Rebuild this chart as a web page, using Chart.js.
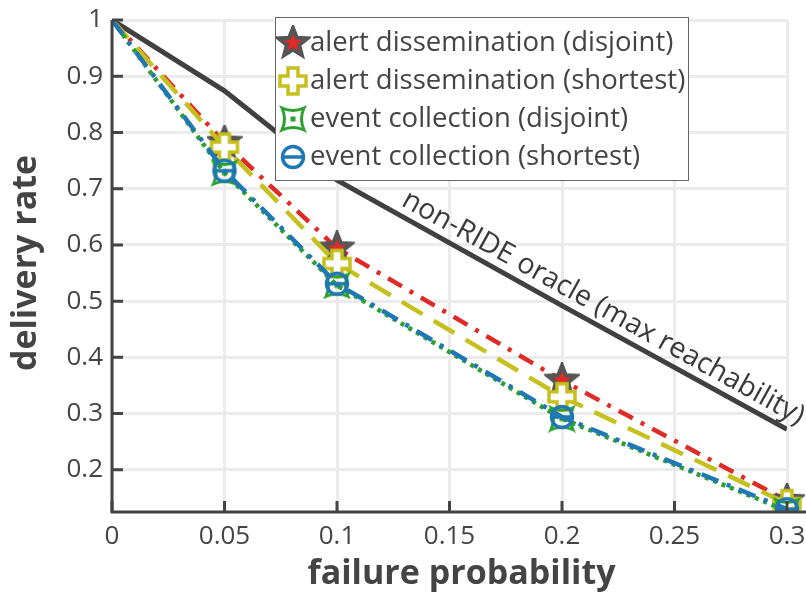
<!DOCTYPE html>
<html>
<head>
<meta charset="utf-8">
<script src="https://cdn.jsdelivr.net/npm/chart.js@4/dist/chart.umd.min.js"></script>
<style>
  html, body { margin: 0; padding: 0; background: #ffffff; }
  #wrap { width: 806px; height: 592px; }
</style>
</head>
<body>
<div id="wrap"><canvas id="chart" width="806" height="592"></canvas></div>
<script>
// failure probability on the x axis
const probabilities = [0, 0.05, 0.1, 0.2, 0.3];

// delivery rate per routing scheme
const alertDisjoint = [1.0, 0.782, 0.594, 0.359, 0.145];
const alertShortest = [1.0, 0.774, 0.567, 0.330, 0.140];
const eventDisjoint = [1.0, 0.728, 0.528, 0.291, 0.127];
const eventShortest = [1.0, 0.732, 0.531, 0.294, 0.130];
const oracleReach   = [1.0, 0.874, 0.715, 0.492, 0.272];

const seriesNames = [
  'alert dissemination (disjoint)',
  'alert dissemination (shortest)',
  'event collection (disjoint)',
  'event collection (shortest)'
];
const oracleLabel = 'non-RIDE oracle (max reachability)';
const xTitle = 'failure probability';
const yTitle = 'delivery rate';

const xTicks = [0, 0.05, 0.1, 0.15, 0.2, 0.25, 0.3];
const yTicks = [0.2, 0.3, 0.4, 0.5, 0.6, 0.7, 0.8, 0.9, 1];

const FONT = "'Open Sans', 'Noto Sans', sans-serif";
const TEXT = '#444444';
const RED = '#e02a26', YELLOW = '#c6c01e', GREEN = '#2ca02c', BLUE = '#1f77b4', DARK = '#404040';

// ---- marker glyphs, drawn once into small canvases ----
function glyph(size, draw) {
  const c = document.createElement('canvas');
  c.width = size; c.height = size;
  const g = c.getContext('2d');
  g.translate(size / 2, size / 2);
  draw(g);
  return c;
}
const starMark = glyph(36, g => {
  const R = 15, r = 6.5;
  g.beginPath();
  for (let i = 0; i < 10; i++) {
    const a = -Math.PI / 2 + i * Math.PI / 5;
    const rad = i % 2 === 0 ? R : r;
    g.lineTo(rad * Math.cos(a), rad * Math.sin(a));
  }
  g.closePath();
  g.fillStyle = RED; g.fill();
  g.lineWidth = 4; g.strokeStyle = '#555555'; g.lineJoin = 'miter'; g.stroke();
});
const plusMark = glyph(32, g => {
  const a = 5, L = 13;
  g.beginPath();
  g.moveTo(-a, -L); g.lineTo(a, -L); g.lineTo(a, -a); g.lineTo(L, -a); g.lineTo(L, a);
  g.lineTo(a, a); g.lineTo(a, L); g.lineTo(-a, L); g.lineTo(-a, a); g.lineTo(-L, a);
  g.lineTo(-L, -a); g.lineTo(-a, -a); g.closePath();
  g.fillStyle = '#ffffff'; g.fill();
  g.lineWidth = 3.5; g.strokeStyle = YELLOW; g.stroke();
});
const pinchMark = glyph(28, g => {
  const s = 11, p = 5;
  g.beginPath();
  g.moveTo(-s, -s);
  g.quadraticCurveTo(0, -s + p, s, -s);
  g.quadraticCurveTo(s - p, 0, s, s);
  g.quadraticCurveTo(0, s - p, -s, s);
  g.quadraticCurveTo(-s + p, 0, -s, -s);
  g.closePath();
  g.lineWidth = 3; g.strokeStyle = GREEN; g.stroke();
  g.fillStyle = GREEN; g.fillRect(-2.5, -2.5, 5, 5);
});
const barCircleMark = glyph(28, g => {
  g.beginPath(); g.arc(0, 0, 10.5, 0, Math.PI * 2);
  g.lineWidth = 3.5; g.strokeStyle = BLUE; g.stroke();
  g.beginPath(); g.moveTo(-10.5, 0); g.lineTo(10.5, 0); g.stroke();
});
const marks = [starMark, plusMark, pinchMark, barCircleMark];

const pts = vals => probabilities.map((p, i) => ({ x: p, y: vals[i] }));
// no marker on the shared starting point
const markRadius = ctx => (ctx.dataIndex === 0 ? 0 : 12);
// clip to the plot except on the right, where the last markers overhang
const plotClip = { left: 0, top: 0, right: 20, bottom: 0 };

function series(i, vals, color, dash, order) {
  return {
    label: seriesNames[i],
    data: pts(vals),
    borderColor: color,
    borderWidth: 4.5,
    borderDash: dash,
    pointStyle: marks[i],
    pointRadius: markRadius,
    pointHoverRadius: markRadius,
    fill: false,
    tension: 0,
    clip: plotClip,
    order: order
  };
}

const datasets = [
  {
    label: oracleLabel,
    data: pts(oracleReach),
    borderColor: DARK,
    borderWidth: 5,
    pointRadius: 0,
    fill: false,
    tension: 0,
    clip: 0,
    order: 10
  },
  series(0, alertDisjoint, RED, [16, 9, 4, 9], 4),
  series(1, alertShortest, YELLOW, [24, 13], 3),
  series(2, eventDisjoint, GREEN, [4, 5], 2),
  series(3, eventShortest, BLUE, [18, 9, 4, 9], 1)
];

// inward tick marks and the two axis lines
const innerTicks = {
  id: 'innerTicks',
  afterDraw(chart) {
    const { ctx, chartArea: a, scales: { x, y } } = chart;
    ctx.save();
    ctx.strokeStyle = '#444444';
    ctx.lineWidth = 3;
    ctx.beginPath();
    xTicks.forEach(v => { const px = x.getPixelForValue(v); ctx.moveTo(px, a.bottom); ctx.lineTo(px, a.bottom - 11); });
    yTicks.forEach(v => { const py = y.getPixelForValue(v); ctx.moveTo(a.left, py); ctx.lineTo(a.left + 11, py); });
    ctx.stroke();
    ctx.beginPath();
    ctx.moveTo(a.left, a.top); ctx.lineTo(a.left, a.bottom); ctx.lineTo(a.right + 20, a.bottom);
    ctx.stroke();
    ctx.restore();
  }
};

// axis titles
const axisTitles = {
  id: 'axisTitles',
  afterDraw(chart) {
    const { ctx, chartArea: a } = chart;
    ctx.save();
    ctx.font = 'bold 34px ' + FONT;
    ctx.fillStyle = TEXT;
    ctx.textAlign = 'center';
    ctx.textBaseline = 'middle';
    ctx.fillText(xTitle, (a.left + a.right) / 2 + 12, 574);
    ctx.translate(26, (a.top + a.bottom) / 2 - 3);
    ctx.rotate(-Math.PI / 2);
    ctx.fillText(yTitle, 0, 0);
    ctx.restore();
  }
};

// label written along the oracle line
const oracleText = {
  id: 'oracleText',
  afterDatasetsDraw(chart) {
    const { ctx, scales: { x, y } } = chart;
    const x1 = x.getPixelForValue(probabilities[2]), y1 = y.getPixelForValue(oracleReach[2]);
    const x2 = x.getPixelForValue(probabilities[4]), y2 = y.getPixelForValue(oracleReach[4]);
    const ang = Math.atan2(y2 - y1, x2 - x1);
    const sx = x.getPixelForValue(0.1262);
    const sy = y1 + (sx - x1) * (y2 - y1) / (x2 - x1);
    ctx.save();
    ctx.translate(sx, sy);
    ctx.rotate(ang);
    ctx.font = '28.5px ' + FONT;
    ctx.fillStyle = '#3a3a3a';
    ctx.textAlign = 'left';
    ctx.textBaseline = 'alphabetic';
    ctx.fillText(oracleLabel, 0, -9);
    ctx.restore();
  }
};

// boxed legend in the upper part of the plot
const boxLegend = {
  id: 'boxLegend',
  afterDraw(chart) {
    const { ctx } = chart;
    const bx = 275.5, by = 17.5, bw = 413, bh = 163;
    ctx.save();
    ctx.fillStyle = '#ffffff';
    ctx.fillRect(bx, by, bw, bh);
    ctx.strokeStyle = '#666666';
    ctx.lineWidth = 1;
    ctx.strokeRect(bx, by, bw, bh);
    ctx.font = '27.5px ' + FONT;
    ctx.fillStyle = TEXT;
    ctx.textAlign = 'left';
    ctx.textBaseline = 'middle';
    seriesNames.forEach((name, i) => {
      const cy = 43 + i * 38;
      const m = marks[i];
      ctx.drawImage(m, 293 - m.width / 2, cy - m.height / 2);
      ctx.fillText(name, 310, cy);
    });
    ctx.restore();
  }
};

new Chart(document.getElementById('chart'), {
  type: 'line',
  data: { datasets },
  plugins: [oracleText, innerTicks, axisTitles, boxLegend],
  options: {
    responsive: false,
    animation: false,
    events: [],
    layout: { padding: { left: 0, right: 19, top: 20, bottom: 0 } },
    plugins: { legend: { display: false }, tooltip: { enabled: false } },
    scales: {
      x: {
        type: 'linear',
        min: 0,
        max: 0.3,
        afterBuildTicks: s => { s.ticks = xTicks.map(v => ({ value: v })); },
        afterFit: s => { s.height = 80; s.paddingLeft = 0; s.paddingRight = 0; },
        border: { display: false },
        grid: { color: '#ebebeb', lineWidth: 3, drawTicks: false },
        ticks: {
          padding: 9,
          color: TEXT,
          font: { family: FONT, size: 26 },
          maxRotation: 0,
          autoSkip: false,
          callback: v => String(v)
        }
      },
      y: {
        type: 'linear',
        min: 0.125,
        max: 1,
        afterBuildTicks: s => { s.ticks = yTicks.map(v => ({ value: v })); },
        afterFit: s => { s.width = 112; s.paddingTop = 0; s.paddingBottom = 0; },
        border: { display: false },
        grid: { color: '#ebebeb', lineWidth: 3, drawTicks: false },
        ticks: {
          padding: 9,
          color: TEXT,
          font: { family: FONT, size: 26 },
          autoSkip: false,
          callback: v => String(v)
        }
      }
    }
  }
});
</script>
</body>
</html>
